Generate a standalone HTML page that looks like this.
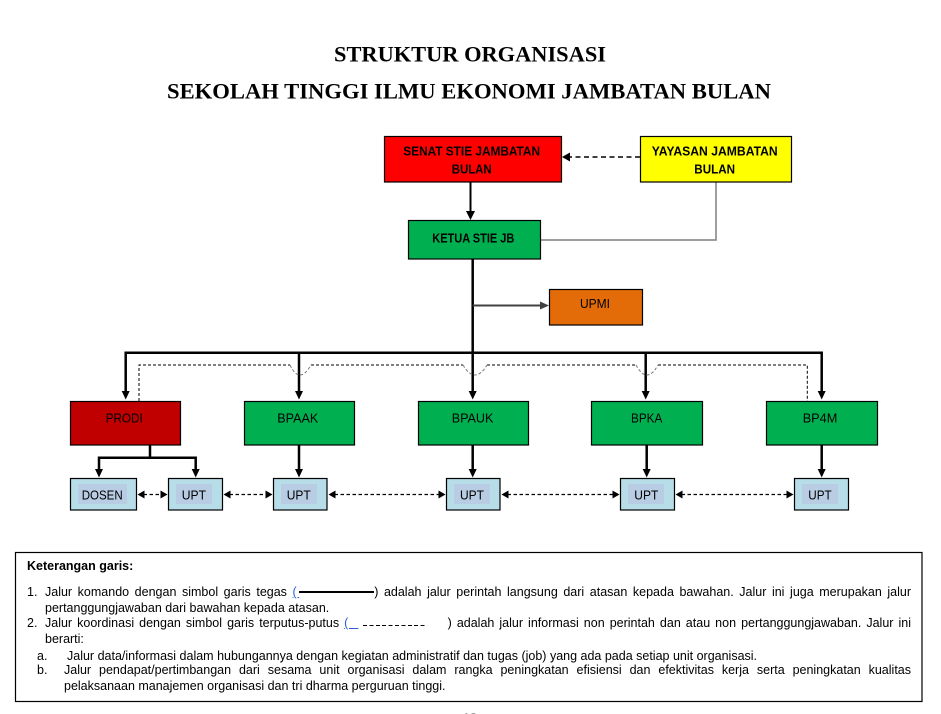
<!DOCTYPE html>
<html>
<head>
<meta charset="utf-8">
<style>
  html,body{margin:0;padding:0;background:#fff;}
  body{width:941px;height:714px;position:relative;overflow:hidden;font-family:"Liberation Sans",Arial,sans-serif;}
  svg{position:absolute;left:0;top:0;}
  .lg{position:absolute;font-family:"Liberation Sans",Arial,sans-serif;font-size:12.5px;line-height:15px;color:#000;white-space:nowrap;}
  .j{white-space:normal;text-align:justify;text-align-last:justify;}
  .bl{color:#2f5fd0;text-decoration:underline;text-decoration-color:#2f5fd0;}
  .sl{display:inline-block;width:75px;height:2px;background:#000;vertical-align:baseline;margin-bottom:3px;}
  .dl{display:inline-block;width:64px;height:1.3px;vertical-align:baseline;margin-bottom:1px;background:repeating-linear-gradient(to right,#000 0 4px,transparent 4px 6.4px);}
</style>
</head>
<body>
<svg width="941" height="714" viewBox="0 0 941 714" xmlns="http://www.w3.org/2000/svg">
  <!-- Title -->
  <text x="334" y="61.5" font-family="Liberation Serif, serif" font-weight="bold" font-size="22.4" textLength="272" lengthAdjust="spacingAndGlyphs">STRUKTUR ORGANISASI</text>
  <text x="167" y="98.5" font-family="Liberation Serif, serif" font-weight="bold" font-size="22.4" textLength="604" lengthAdjust="spacingAndGlyphs">SEKOLAH TINGGI ILMU EKONOMI JAMBATAN BULAN</text>

  <!-- Connectors -->
  <line x1="470.5" y1="182" x2="470.5" y2="212" stroke="#000" stroke-width="2"/>
  <polygon points="466,211 475,211 470.5,220" fill="#000"/>
  <line x1="640" y1="157" x2="570" y2="157" stroke="#000" stroke-width="1.5" stroke-dasharray="5,3.5"/>
  <polygon points="562,157 570,152.5 570,161.5" fill="#000"/>
  <polyline points="716,182 716,240 541,240" fill="none" stroke="#7f7f7f" stroke-width="1.5"/>
  <line x1="472.7" y1="259" x2="472.7" y2="392" stroke="#000" stroke-width="2.5"/>
  <line x1="472.7" y1="305.5" x2="541" y2="305.5" stroke="#404040" stroke-width="2"/>
  <polygon points="540,301.5 540,309.5 549,305.5" fill="#404040"/>
  <polyline points="125.7,392 125.7,352.7 821.7,352.7 821.7,392" fill="none" stroke="#000" stroke-width="2.5"/>
  <line x1="299" y1="352.7" x2="299" y2="392" stroke="#000" stroke-width="2.5"/>
  <line x1="645.7" y1="352.7" x2="645.7" y2="392" stroke="#000" stroke-width="2.5"/>
  <polygon points="121.7,391 129.7,391 125.7,399.5" fill="#000"/>
  <polygon points="295,391 303,391 299,399.5" fill="#000"/>
  <polygon points="468.7,391 476.7,391 472.7,399.5" fill="#000"/>
  <polygon points="641.7,391 649.7,391 645.7,399.5" fill="#000"/>
  <polygon points="817.7,391 825.7,391 821.7,399.5" fill="#000"/>

  <path d="M139,401 V365 H290 M311,365 H463 M487,365 H636 M658,365 H807.3 V401" fill="none" stroke="#000" stroke-width="1" stroke-dasharray="3,2"/>
  <path d="M290,365 Q299.5,385 311,365 M463,365 Q475,385 487,365 M636,365 Q647,385 658,365" fill="none" stroke="#777" stroke-width="1" stroke-dasharray="3,2"/>

  <line x1="150" y1="445" x2="150" y2="457.7" stroke="#000" stroke-width="2.5"/>
  <polyline points="99,470 99,457.7 195.7,457.7 195.7,470" fill="none" stroke="#000" stroke-width="2.5"/>
  <polygon points="95,469 103,469 99,477.5" fill="#000"/>
  <polygon points="191.7,469 199.7,469 195.7,477.5" fill="#000"/>

  <line x1="299" y1="445" x2="299" y2="470" stroke="#000" stroke-width="2.5"/>
  <polygon points="295,469 303,469 299,477.5" fill="#000"/>
  <line x1="472.7" y1="445" x2="472.7" y2="470" stroke="#000" stroke-width="2.5"/>
  <polygon points="468.7,469 476.7,469 472.7,477.5" fill="#000"/>
  <line x1="646.7" y1="445" x2="646.7" y2="470" stroke="#000" stroke-width="2.5"/>
  <polygon points="642.7,469 650.7,469 646.7,477.5" fill="#000"/>
  <line x1="821.7" y1="445" x2="821.7" y2="470" stroke="#000" stroke-width="2.5"/>
  <polygon points="817.7,469 825.7,469 821.7,477.5" fill="#000"/>

  <g stroke="#000" stroke-width="1.3" stroke-dasharray="3.5,2.5">
    <line x1="143.5" y1="494.5" x2="161.5" y2="494.5"/>
    <line x1="229.5" y1="494.5" x2="266.5" y2="494.5"/>
    <line x1="334.5" y1="494.5" x2="439.5" y2="494.5"/>
    <line x1="507.5" y1="494.5" x2="613.5" y2="494.5"/>
    <line x1="681.5" y1="494.5" x2="787.5" y2="494.5"/>
  </g>
  <g fill="#000">
    <polygon points="137.5,494.5 144.5,490.5 144.5,498.5"/>
    <polygon points="167.5,494.5 160.5,490.5 160.5,498.5"/>
    <polygon points="223.5,494.5 230.5,490.5 230.5,498.5"/>
    <polygon points="272.5,494.5 265.5,490.5 265.5,498.5"/>
    <polygon points="328.5,494.5 335.5,490.5 335.5,498.5"/>
    <polygon points="445.5,494.5 438.5,490.5 438.5,498.5"/>
    <polygon points="501.5,494.5 508.5,490.5 508.5,498.5"/>
    <polygon points="619.5,494.5 612.5,490.5 612.5,498.5"/>
    <polygon points="675.5,494.5 682.5,490.5 682.5,498.5"/>
    <polygon points="793.5,494.5 786.5,490.5 786.5,498.5"/>
  </g>

  <g stroke="#000" stroke-width="1.2">
    <rect x="384.5" y="136.5" width="177" height="45.5" fill="#ff0000"/>
    <rect x="640.5" y="136.5" width="151" height="45.5" fill="#ffff00"/>
    <rect x="408.5" y="220.5" width="132" height="38.5" fill="#00b050"/>
    <rect x="549.5" y="289.5" width="93" height="35.5" fill="#e36c09"/>
    <rect x="70.5" y="401.5" width="110" height="43.5" fill="#c00000"/>
    <rect x="244.5" y="401.5" width="110" height="43.5" fill="#00b050"/>
    <rect x="418.5" y="401.5" width="110" height="43.5" fill="#00b050"/>
    <rect x="591.5" y="401.5" width="111" height="43.5" fill="#00b050"/>
    <rect x="766.5" y="401.5" width="111" height="43.5" fill="#00b050"/>
    <rect x="70.5" y="478.5" width="66" height="31.5" fill="#b7dde8"/>
    <rect x="168.5" y="478.5" width="54" height="31.5" fill="#b7dde8"/>
    <rect x="273.5" y="478.5" width="53.5" height="31.5" fill="#b7dde8"/>
    <rect x="446.5" y="478.5" width="53.5" height="31.5" fill="#b7dde8"/>
    <rect x="620.5" y="478.5" width="54" height="31.5" fill="#b7dde8"/>
    <rect x="794.5" y="478.5" width="54" height="31.5" fill="#b7dde8"/>
  </g>
  <g fill="#b8cce4">
    <rect x="78" y="484" width="49" height="20"/>
    <rect x="176" y="484" width="36" height="20"/>
    <rect x="281" y="484" width="36" height="20"/>
    <rect x="454" y="484" width="36" height="20"/>
    <rect x="628" y="484" width="36" height="20"/>
    <rect x="802" y="484" width="36" height="20"/>
  </g>

  <g font-family="Liberation Sans, Arial, sans-serif" font-size="13" fill="#000">
    <text x="403.3" y="155.5" font-weight="bold" textLength="136.7" lengthAdjust="spacingAndGlyphs">SENAT STIE JAMBATAN</text>
    <text x="451.7" y="173.5" font-weight="bold" textLength="40" lengthAdjust="spacingAndGlyphs">BULAN</text>
    <text x="651.7" y="155.5" font-weight="bold" textLength="126" lengthAdjust="spacingAndGlyphs">YAYASAN JAMBATAN</text>
    <text x="694.3" y="173.5" font-weight="bold" textLength="40.7" lengthAdjust="spacingAndGlyphs">BULAN</text>
    <text x="432.3" y="242.5" font-weight="bold" textLength="82" lengthAdjust="spacingAndGlyphs">KETUA STIE JB</text>
    <text x="580" y="308" textLength="30" lengthAdjust="spacingAndGlyphs">UPMI</text>
    <text x="105.7" y="422.5" textLength="37" lengthAdjust="spacingAndGlyphs">PRODI</text>
    <text x="277.3" y="422.5" textLength="41" lengthAdjust="spacingAndGlyphs">BPAAK</text>
    <text x="451.7" y="422.5" textLength="41.7" lengthAdjust="spacingAndGlyphs">BPAUK</text>
    <text x="631" y="422.5" textLength="31.3" lengthAdjust="spacingAndGlyphs">BPKA</text>
    <text x="802.7" y="422.5" textLength="34.7" lengthAdjust="spacingAndGlyphs">BP4M</text>
    <text x="81.7" y="499.5" textLength="41" lengthAdjust="spacingAndGlyphs">DOSEN</text>
    <text x="181.7" y="499.5" textLength="24.3" lengthAdjust="spacingAndGlyphs">UPT</text>
    <text x="286.7" y="499.5" textLength="24" lengthAdjust="spacingAndGlyphs">UPT</text>
    <text x="460" y="499.5" textLength="24" lengthAdjust="spacingAndGlyphs">UPT</text>
    <text x="634.3" y="499.5" textLength="24" lengthAdjust="spacingAndGlyphs">UPT</text>
    <text x="808.3" y="499.5" textLength="23.4" lengthAdjust="spacingAndGlyphs">UPT</text>
  </g>

  <rect x="15.5" y="552.5" width="906.5" height="149" fill="none" stroke="#000" stroke-width="1.2"/>
  <text x="463" y="722" font-family="Liberation Sans, Arial, sans-serif" font-size="12.5" fill="#999">13</text>
</svg>

<div class="lg" style="left:27px;top:559.2px;font-weight:bold;">Keterangan garis:</div>

<div class="lg" style="left:27px;top:585.2px;">1.</div>
<div class="lg j" style="left:45px;top:585.2px;width:866px;">Jalur komando dengan simbol garis tegas <span class="bl">(&#8201;</span><span class="sl"></span>) adalah jalur perintah langsung dari atasan kepada bawahan. Jalur ini juga merupakan jalur</div>
<div class="lg" style="left:45px;top:600.7px;">pertanggungjawaban dari bawahan kepada atasan.</div>

<div class="lg" style="left:27px;top:616.2px;">2.</div>
<div class="lg j" style="left:45px;top:616.2px;width:866px;">Jalur koordinasi dengan simbol garis terputus-putus <span class="bl">(&nbsp;&nbsp;</span> <span class="dl"></span>&nbsp;&nbsp;&nbsp; ) adalah jalur informasi non perintah dan atau non pertanggungjawaban. Jalur ini</div>
<div class="lg" style="left:45px;top:631.7px;">berarti:</div>

<div class="lg" style="left:37px;top:649.2px;">a.</div>
<div class="lg" style="left:67px;top:649.2px;">Jalur data/informasi dalam hubungannya dengan kegiatan administratif dan tugas (job) yang ada pada setiap unit organisasi.</div>

<div class="lg" style="left:37px;top:663.2px;">b.</div>
<div class="lg j" style="left:64px;top:663.2px;width:847px;">Jalur pendapat/pertimbangan dari sesama unit organisasi dalam rangka peningkatan efisiensi dan efektivitas kerja serta peningkatan kualitas</div>
<div class="lg" style="left:64px;top:679.2px;">pelaksanaan manajemen organisasi dan tri dharma perguruan tinggi.</div>
</body>
</html>
